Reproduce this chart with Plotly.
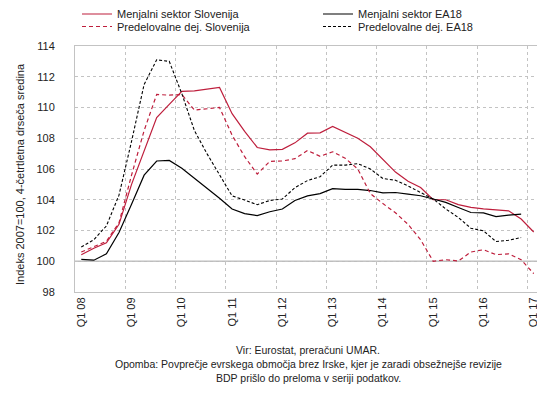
import plotly.graph_objects as go

# ---- data ----
tick_labels = ["Q1 08", "Q1 09", "Q1 10", "Q1 11", "Q1 12", "Q1 13", "Q1 14", "Q1 15", "Q1 16", "Q1 17"]
quarter_index = list(range(37))  # Q1 08 ... Q1 17

menjalni_si = [100.42, 100.85, 101.2, 102.4, 105.0, 107.2, 109.35, 110.2, 111.05, 111.08,
               111.2, 111.3, 109.6, 108.45, 107.4, 107.25, 107.28, 107.7, 108.33, 108.35,
               108.77, 108.4, 108.0, 107.45, 106.6, 105.8, 105.2, 104.8, 104.0, 104.0,
               103.68, 103.5, 103.4, 103.35, 103.28, 102.75, 101.9]

menjalni_ea = [100.12, 100.07, 100.48, 101.87, 103.7, 105.6, 106.52, 106.56, 106.05, 105.4,
               104.77, 104.1, 103.4, 103.1, 102.97, 103.22, 103.4, 103.95, 104.25, 104.4,
               104.72, 104.67, 104.67, 104.6, 104.45, 104.47, 104.37, 104.26, 104.05, 103.83,
               103.5, 103.17, 103.15, 102.9, 103.0, 103.07, None]

pred_si = [100.6, 100.95, 101.3, 102.5, 105.6, 108.5, 110.85, 110.8, 110.85, 109.83,
           109.9, 110.0, 108.2, 106.8, 105.67, 106.5, 106.52, 106.67, 107.2, 106.83,
           107.12, 106.7, 106.0, 104.4, 103.75, 103.15, 102.4, 101.4, 100.0, 100.1,
           100.02, 100.6, 100.75, 100.43, 100.48, 100.1, 99.2]

pred_ea = [100.93, 101.4, 102.3, 104.3, 107.8, 111.5, 113.1, 113.0, 110.9, 108.5,
           107.0, 105.6, 104.25, 103.98, 103.68, 103.95, 104.05, 104.78, 105.25, 105.5,
           106.25, 106.25, 106.35, 106.0, 105.38, 105.27, 104.9, 104.47, 104.05, 103.4,
           102.85, 102.15, 101.98, 101.28, 101.37, 101.54, None]

series_names = ["Menjalni sektor Slovenija", "Menjalni sektor EA18",
                "Predelovalne dej. Slovenija", "Predelovalne dej. EA18"]

RED = "#BE1E3C"
BLACK = "#000000"
GRID = "#c3c3c3"
TXT = "#222222"
FONT = "Liberation Sans, Arial, sans-serif"
W, H = 545, 393

fig = go.Figure()
fig.add_trace(go.Scatter(x=quarter_index, y=menjalni_si, mode="lines", name=series_names[0],
                         line=dict(color=RED, width=1.2), legend="legend"))
fig.add_trace(go.Scatter(x=quarter_index, y=menjalni_ea, mode="lines", name=series_names[1],
                         line=dict(color=BLACK, width=1.2), legend="legend2"))
fig.add_trace(go.Scatter(x=quarter_index, y=pred_si, mode="lines", name=series_names[2],
                         line=dict(color=RED, width=1.2, dash="4px,3px"), legend="legend3"))
fig.add_trace(go.Scatter(x=quarter_index, y=pred_ea, mode="lines", name=series_names[3],
                         line=dict(color=BLACK, width=1.1, dash="3px,2px"), legend="legend4"))


def leg(px, py):
    return dict(xref="container", yref="container", x=px / W, y=1 - py / H,
                xanchor="left", yanchor="middle", orientation="v",
                font=dict(size=11, color=TXT), bgcolor="rgba(0,0,0,0)")


fig.update_layout(
    width=W, height=H,
    margin=dict(l=67, r=13, t=38, b=109, autoexpand=False),
    paper_bgcolor="white", plot_bgcolor="white",
    font=dict(family=FONT, size=11, color=TXT),
    showlegend=True,
    legend=leg(69, 6), legend2=leg(310, 6), legend3=leg(69, 18.5), legend4=leg(310, 18.5),
    xaxis=dict(range=[-0.5, 36.5], tickmode="array",
               tickvals=list(range(0, 37, 4)), ticktext=tick_labels,
               tickangle=-90, showgrid=False, zeroline=False, ticks="",
               tickfont=dict(size=11, color=TXT),
               showline=True, mirror=True, linecolor=GRID, linewidth=1,
               minor=dict(tick0=-0.5, dtick=4, showgrid=True, gridcolor=GRID,
                          griddash="dot", gridwidth=1)),
    yaxis=dict(range=[98, 114], tickmode="linear", tick0=98, dtick=2,
               showgrid=True, gridcolor=GRID, griddash="dot", gridwidth=1,
               zeroline=False, ticks="", ticklabelstandoff=17,
               tickfont=dict(size=11, color=TXT),
               showline=True, mirror=True, linecolor=GRID, linewidth=1),
)

fig.add_hline(y=100, line=dict(color="#bdbdbd", width=1.3), layer="below")

fig.add_annotation(text="Indeks 2007=100, 4-četrtletna drseča sredina",
                   xref="paper", yref="paper", x=(12 - 67) / 465, y=(284 - 166) / 246,
                   textangle=-90, showarrow=False, font=dict(size=11, color=TXT),
                   xanchor="center", yanchor="middle")

notes = ["Vir: Eurostat, preračuni UMAR.",
         "Opomba: Povprečje evrskega območja brez Irske, kjer je zaradi obsežnejše revizije",
         "BDP prišlo do preloma v seriji podatkov."]
note_y = [342, 356, 370]
for t, py in zip(notes, note_y):
    fig.add_annotation(text=t, xref="paper", yref="paper",
                       x=(300 - 67) / 465, y=(284 - py) / 246,
                       showarrow=False, xanchor="center", yanchor="middle",
                       font=dict(size=10.5, color=TXT))

fig.write_html("out.html")
